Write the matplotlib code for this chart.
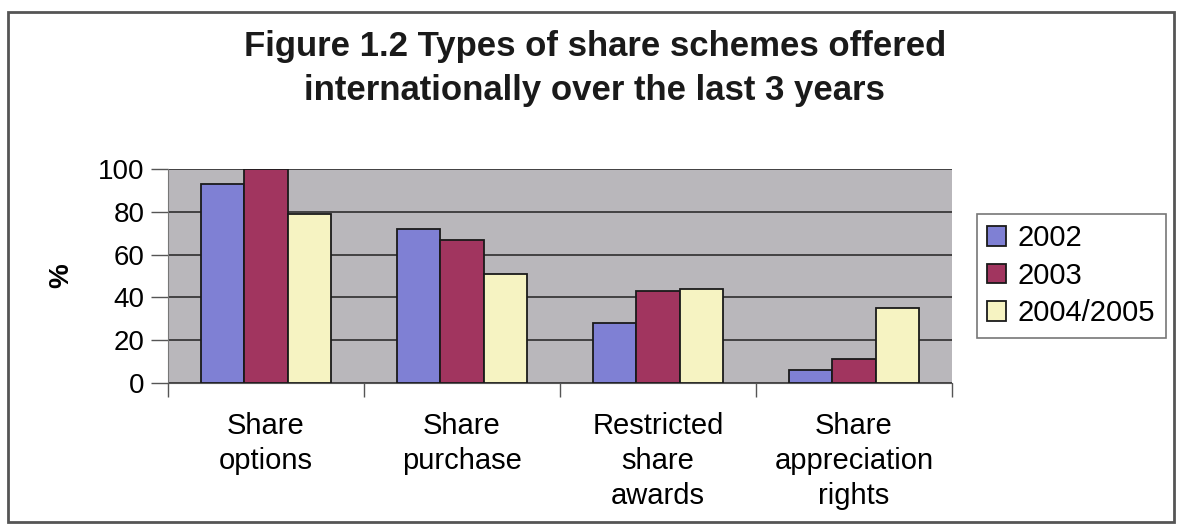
import matplotlib
matplotlib.use("Agg")
import matplotlib.pyplot as plt
import numpy as np
from matplotlib.patches import Rectangle

categories = ["Share\noptions", "Share\npurchase", "Restricted\nshare\nawards", "Share\nappreciation\nrights"]
years = ["2002", "2003", "2004/2005"]
v2002 = [93, 72, 28, 6]
v2003 = [100, 67, 43, 11]
v2004 = [79, 51, 44, 35]
colors = ["#7f80d4", "#a1355f", "#f6f3c2"]

plt.rcParams["font.family"] = ["Liberation Sans", "DejaVu Sans"]

fig = plt.figure(figsize=(11.8, 5.28), dpi=100)
ax = fig.add_axes([168 / 1180, 1 - 383 / 528, (952 - 168) / 1180, (383 - 169) / 528])

x = np.arange(len(categories))
w = 1 / 4.5
for i, (vals, lab) in enumerate(zip([v2002, v2003, v2004], years)):
    ax.bar(x + (i - 1) * w, vals, w, color=colors[i], edgecolor="#1a1a1a", linewidth=1.3, label=lab, zorder=3)

ax.set_xlim(-0.5, len(categories) - 0.5)
ax.set_ylim(0, 100)
ax.set_facecolor("#b9b7bb")
ax.set_yticks(range(0, 101, 20))
ax.yaxis.grid(True, color="#2e2e2e", linewidth=1.2, zorder=1)
ax.set_axisbelow(True)
ax.tick_params(axis="y", labelsize=20, length=12, width=1, color="#555555", pad=5)
ax.set_xticks(x)
ax.set_xticklabels(categories, fontsize=21, linespacing=1.32)
ax.tick_params(axis="x", length=0, pad=21)
ax.set_xticks(np.arange(-0.5, len(categories)), minor=True)
ax.tick_params(axis="x", which="minor", length=10, width=1, color="#555555")
for s in ["top", "right"]:
    ax.spines[s].set_visible(False)
ax.spines["left"].set_color("#777777")
ax.spines["bottom"].set_color("#555555")
ax.set_ylabel("%", fontsize=20, fontweight="bold", labelpad=17)

fig.text(0.504, 0.87, "Figure 1.2 Types of share schemes offered\ninternationally over the last 3 years",
         ha="center", va="center", fontsize=25, fontweight="bold", linespacing=1.45, color="#1a1a1a")

leg = fig.legend(loc="upper left", bbox_to_anchor=(977 / 1180, 1 - 214 / 528), fontsize=21,
                 frameon=True, fancybox=False, edgecolor="#555555", handlelength=0.65,
                 handleheight=0.65, handletextpad=0.4, labelspacing=0.33, borderpad=0.35,
                 borderaxespad=0)
leg.get_frame().set_linewidth(1.2)

fig.patches.append(Rectangle((8 / 1180, 6 / 528), 1166 / 1180, 510 / 528, transform=fig.transFigure,
                             fill=False, edgecolor="#555555", linewidth=2))

fig.savefig("out.png", dpi=100)
